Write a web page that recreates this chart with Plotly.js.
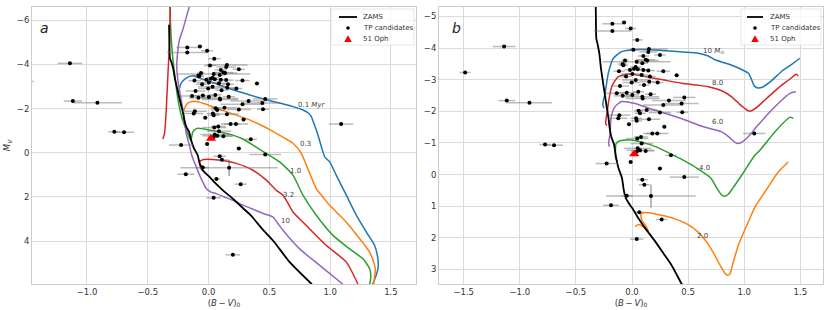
<!DOCTYPE html>
<html>
<head>
<meta charset="utf-8">
<script src="https://cdn.plot.ly/plotly-3.0.1.min.js"></script>
<style>html,body{margin:0;padding:0;background:#fff;}#chart{width:830px;height:310px;}</style>
</head>
<body>
<div id="chart"></div>
<script>
// ---------------- DATA ----------------
// ZAMS
const zamsBV = [-0.325,-0.322,-0.318,-0.305,-0.29,-0.278,-0.262,-0.245,-0.228,-0.21,-0.2,-0.185,-0.16,-0.145,-0.12,-0.09,-0.075,-0.06,-0.03,0.008,0.06,0.118,0.2,0.282,0.35,0.443,0.53,0.667,0.85];
const zamsMV = [-5.8,-5.0,-4.3,-4.1,-3.8,-3.4,-3.0,-2.6,-2.2,-1.8,-1.5,-1.2,-0.95,-0.6,-0.2,0.1,0.45,0.7,0.9,1.09,1.4,1.7,2.08,2.5,2.85,3.46,3.97,4.95,5.95];

// Panel a: isochrones
const iso01BV = [-0.253,-0.240,-0.225,-0.184,-0.129,-0.074,0.05,0.2,0.35,0.475,0.60,0.694,0.776,0.82,0.845,0.865,0.886,0.908,0.928,0.955,0.996,1.05,1.133,1.216,1.298,1.366,1.393,1.395,1.393,1.375,1.35];
const iso01MV = [-2.62,-2.9,-3.15,-3.38,-3.49,-3.38,-3.15,-2.85,-2.6,-2.4,-2.23,-2.09,-1.94,-1.80,-1.64,-1.35,-1.03,-0.65,-0.27,0.18,0.41,1.01,1.92,2.83,3.59,4.2,4.8,5.0,5.25,5.6,5.95];
const iso03BV = [-0.211,-0.195,-0.170,-0.135,-0.101,-0.02,0.063,0.2,0.337,0.45,0.557,0.63,0.694,0.763,0.804,0.845,0.886,0.94,0.996,1.133,1.243,1.325,1.366,1.372,1.366,1.358];
const iso03MV = [-1.79,-2.05,-2.25,-2.32,-2.32,-2.2,-2.02,-1.76,-1.49,-1.2,-0.88,-0.65,-0.43,0.03,0.56,1.1,1.62,2.0,2.38,3.14,3.89,4.5,5.1,5.35,5.56,5.95];
const iso10BV = [-0.318,-0.31,-0.298,-0.28,-0.262,-0.245,-0.215,-0.18,-0.158,-0.145,-0.138,-0.129,-0.11,-0.088,-0.04,0.008,0.1,0.2,0.29,0.365,0.42,0.475,0.584,0.694,0.776,0.886,1.023,1.16,1.27,1.325,1.335,1.325];
const iso10MV = [-6.65,-5.5,-4.5,-3.6,-2.8,-2.2,-1.5,-1.0,-0.7,-0.55,-0.75,-0.95,-1.06,-1.11,-1.08,-1.03,-0.93,-0.80,-0.6,-0.35,-0.15,0.03,0.41,1.01,1.92,2.83,3.74,4.35,4.8,5.25,5.6,5.95];
const iso32BV = [-0.376,-0.362,-0.348,-0.335,-0.321,-0.315,null,-0.05,-0.075,-0.065,-0.04,0.035,0.13,0.228,0.365,0.475,0.557,0.612,0.65,0.694,0.804,0.969,1.133,1.229];
const iso32MV = [-0.62,-0.88,-1.94,-3.45,-4.97,-6.65,null,0.62,0.50,0.36,0.30,0.30,0.36,0.48,0.79,1.24,1.7,1.92,2.25,2.68,3.29,4.2,4.95,5.95];
const iso100BV = [-0.156,-0.18,-0.21,-0.239,-0.255,-0.262,-0.25,-0.225,-0.2,-0.184,-0.16,-0.142,-0.129,-0.1,-0.074,-0.045,-0.019,0.02,0.063,0.13,0.2,0.255,0.35,0.45,0.53,0.57,0.612,0.749,0.914,1.105];
const iso100MV = [-6.64,-6.2,-5.6,-5.12,-4.5,-3.91,-3.2,-2.4,-1.6,-0.88,-0.4,0.03,0.26,0.65,1.01,1.35,1.62,1.78,1.85,2.0,2.15,2.3,2.52,2.75,2.91,3.2,3.51,4.35,5.1,5.95];
const isoLabels = ['0.1 <i>Myr</i>', '0.3', '1.0', '3.2', '10'];

// Panel b: evolutionary tracks
const trk10BV = [-0.25,-0.26,-0.255,-0.24,-0.211,-0.166,-0.092,0.027,0.15,0.294,0.45,0.59,0.68,0.739,0.83,0.917,0.99,1.036,1.066,1.09,1.12,1.16,1.22,1.333,1.42,1.496];
const trk10MV = [-2.1,-2.2,-2.35,-2.57,-3.21,-3.68,-3.89,-3.95,-3.95,-3.92,-3.88,-3.84,-3.75,-3.63,-3.53,-3.42,-3.3,-3.21,-3.0,-2.8,-2.74,-2.76,-2.9,-3.26,-3.48,-3.68];
const trk8BV = [-0.225,-0.235,-0.232,-0.22,-0.211,-0.181,-0.122,-0.033,0.05,0.145,0.3,0.443,0.58,0.68,0.8,0.888,0.96,1.006,1.036,1.066,1.12,1.184,1.26,1.333,1.4,1.451,1.466,1.481];
const trk8MV = [-1.55,-1.62,-1.75,-2.0,-2.25,-2.78,-3.10,-3.18,-3.15,-3.08,-2.98,-2.89,-2.83,-2.78,-2.65,-2.46,-2.22,-2.09,-2.02,-2.02,-2.15,-2.36,-2.6,-2.83,-3.0,-3.15,-3.17,-3.12];
const trk6BV = [-0.2,-0.208,-0.205,-0.196,-0.185,-0.151,-0.092,0.027,0.15,0.294,0.45,0.59,0.7,0.799,0.86,0.917,0.947,0.99,1.05,1.11,1.258,1.407,1.46];
const trk6MV = [-0.88,-0.98,-1.09,-1.30,-1.83,-2.15,-2.31,-2.25,-2.1,-1.94,-1.76,-1.57,-1.45,-1.35,-1.2,-1.02,-0.98,-1.05,-1.25,-1.51,-2.09,-2.57,-2.62];
const trk4BV = [-0.13,-0.145,-0.148,-0.142,-0.107,-0.018,0.131,0.22,0.309,0.427,0.58,0.70,0.76,0.80,0.83,0.858,0.9,0.977,1.095,1.14,1.288,1.407,1.437];
const trk4MV = [-0.42,-0.5,-0.7,-0.98,-1.07,-1.09,-0.98,-0.87,-0.72,-0.51,-0.2,0.1,0.45,0.65,0.68,0.62,0.42,0.02,-0.61,-0.77,-1.41,-1.81,-1.78];
const trk2BV = [0.027,0.056,0.1,0.145,0.12,0.09,0.08,0.1,0.145,0.25,0.383,0.5,0.59,0.67,0.739,0.79,0.828,0.85,0.873,0.9,0.947,1.036,1.1,1.184,1.303,1.392];
const trk2MV = [1.65,1.58,1.65,1.8,1.6,1.45,1.27,1.2,1.21,1.28,1.40,1.58,1.82,2.15,2.56,2.9,3.12,3.18,3.14,2.8,2.24,1.5,1.0,0.55,-0.08,-0.4];
const trackLabels = ['10 <i>M</i><sub>⊙</sub>', '8.0', '6.0', '4.0', '2.0'];

// TP candidates
const starBV = [-1.140,-1.487,-1.116,-0.914,-0.775,-0.695,1.09,
 -0.175,-0.071,-0.175,-0.012,0.047,0.012,0.151,0.145,0.249,0.101,0.122,0.136,0.042,0.092,-0.062,-0.083,-0.077,0.033,0.018,0.051,-0.018,0.101,-0.116,0.145,0.279,0.003,-0.053,0.086,0.398,0.033,0.160,-0.003,0.154,
 -0.107,0.107,0.229,-0.047,0.003,0.056,0.092,0.095,0.166,-0.083,-0.136,0.466,0.329,0.442,0.279,0.448,0.059,0.071,0.131,0.249,-0.113,-0.122,0.036,0.042,0.151,-0.027,0.288,0.181,0.225,0.080,0.047,0.086,0.051,0.071,0.122,0.042,
 0.347,-0.226,-0.012,0.249,0.466,0.092,0.110,-0.047,0.169,-0.187,0.065,0.264,0.042,0.2];
const starMV = [-4.05,-3.23,-2.34,-2.27,-0.95,-0.93,-1.30,
 -4.77,-4.81,-4.54,-4.62,-4.26,-3.95,-3.97,-3.88,-3.78,-3.75,-3.63,-3.61,-3.57,-3.52,-3.61,-3.50,-3.46,-3.40,-3.35,-3.33,-3.31,-3.31,-3.27,-3.29,-3.27,-3.18,-3.10,-3.15,-3.14,-2.99,-3.10,-2.91,-2.94,
 -2.80,-2.83,-2.91,-2.59,-2.52,-2.62,-2.46,-2.41,-2.54,-2.49,-2.57,-2.44,-2.34,-2.25,-2.20,-1.97,-2.02,-1.94,-2.04,-1.96,-1.88,-1.78,-1.78,-1.70,-1.75,-1.59,-1.51,-1.30,-1.30,-1.19,-1.14,-0.98,-0.83,-0.77,-0.75,-0.72,
 -0.61,-0.35,-0.40,-0.19,0.08,0.16,0.32,0.67,0.68,0.97,1.19,1.42,2.04,4.62];
const starBVerr = [0.10,0.05,0.075,0.2,0.05,0.08,0.1,
 0.09,0.02,0.165,0.05,0.05,0.05,0.17,0.08,0.05,0.05,0.08,0.1,0.3,0.05,0.03,0.04,0.04,0.05,0.05,0.05,0.05,0.05,0.05,0.06,0.06,0.1,0.05,0.06,0.02,0.12,0.05,0.08,0.08,
 0.08,0.05,0.05,0.1,0.06,0.05,0.15,0.15,0.05,0.08,0.1,0.1,0.15,0.15,0.18,0.05,0.04,0.05,0.1,0.1,0.1,0.08,0.05,0.05,0.1,0.02,0.02,0.08,0.1,0.06,0.1,0.1,0.12,0.12,0.08,0.05,
 0.05,0.1,0.02,0.02,0.13,0.05,0.05,0.05,0.4,0.07,0.03,0.05,0.06,0.06];
const starMVerr = [0,0,0,0,0,0,0,
 0,0,0,0,0,0,0,0,0,0,0,0,0,0,0,0,0,0,0,0,0,0,0,0,0,0,0,0,0,0,0,0,0,
 0,0,0,0,0,0,0,0,0,0,0,0,0,0,0,0,0,0,0,0,0,0,0,0,0,0,0,0,0,0,0,0,0,0,0,0,
 0,0,0,0,0,0,0,0,0.37,0,0,0,0,0];

// 51 Oph
const ophBV = [0.02];
const ophMV = [-0.65];

const legendLabels = ['ZAMS', 'TP candidates', '51 Oph'];

// ---------------- STYLE / LAYOUT ----------------
const C = {blue:'#1f77b4', orange:'#ff7f0e', green:'#2ca02c', red:'#d62728', purple:'#9467bd'};
const FONT = 'DejaVu Sans, Liberation Sans, sans-serif';
const ML = 32, MR = 7, MT = 7, MB = 26, W = 830, H = 310;
const PW = W - ML - MR, PH = H - MT - MB;
function px(x) { return (x - ML) / PW; }
function py(y) { return (H - MB - y) / PH; }

function line(xs, ys, color, xa, ya, width) {
  return {x: xs, y: ys, xaxis: xa, yaxis: ya, mode: 'lines', type: 'scatter',
    line: {color: color, width: width || 1.5, shape: 'spline', smoothing: 0.6},
    hoverinfo: 'skip', showlegend: false, connectgaps: false};
}
function stars(xa, ya) {
  return {x: starBV, y: starMV, xaxis: xa, yaxis: ya, mode: 'markers', type: 'scatter',
    name: legendLabels[1],
    marker: {color: '#000', size: 4},
    error_x: {type: 'data', array: starBVerr, color: 'rgba(120,120,120,0.5)', thickness: 1.5, width: 0},
    error_y: {type: 'data', array: starMVerr, color: 'rgba(80,80,80,0.7)', thickness: 1.1, width: 0},
    showlegend: false};
}
function oph(xa, ya) {
  return {x: ophBV, y: ophMV, xaxis: xa, yaxis: ya, mode: 'markers', type: 'scatter',
    name: legendLabels[2], marker: {color: 'red', size: 9, symbol: 'triangle-up'}, showlegend: false};
}

const traces = [
  line(iso01BV, iso01MV, C.blue, 'x', 'y'),
  line(iso03BV, iso03MV, C.orange, 'x', 'y'),
  line(iso10BV, iso10MV, C.green, 'x', 'y'),
  line(iso100BV, iso100MV, C.purple, 'x', 'y'),
  line(iso32BV, iso32MV, C.red, 'x', 'y'),
  line(zamsBV, zamsMV, '#000', 'x', 'y', 1.8),
  stars('x', 'y'),
  oph('x', 'y'),
  line(trk10BV, trk10MV, C.blue, 'x2', 'y2'),
  line(trk8BV, trk8MV, C.red, 'x2', 'y2'),
  line(trk6BV, trk6MV, C.purple, 'x2', 'y2'),
  line(trk4BV, trk4MV, C.green, 'x2', 'y2'),
  line(trk2BV, trk2MV, C.orange, 'x2', 'y2'),
  line(zamsBV, zamsMV, '#000', 'x2', 'y2', 1.8),
  stars('x2', 'y2'),
  oph('x2', 'y2')
];

const axBase = {
  showgrid: true, gridcolor: '#dadada', gridwidth: 1, zeroline: false,
  showline: true, linecolor: '#cccccc', linewidth: 1, mirror: true,
  ticks: '', tickfont: {family: FONT, size: 8.5, color: '#333'}
};
const xTitle = {text: '(<i>B</i>\u2009−\u2009<i>V</i>)<sub>0</sub>', font: {family: FONT, size: 8.5, color: '#333'}, standoff: 3};

const splitA = (416 - ML) / PW, splitB = (439 - ML) / PW;

// isochrone / track label positions (data coords)
const isoLabelPos = [[0.85,-2.17],[0.80,-0.38],[0.718,0.83],[0.661,1.89],[0.631,3.09]];
const trkLabelPos = [[0.73,-3.92],[0.76,-2.91],[0.763,-1.67],[0.65,-0.22],[0.626,1.95]];

const annotations = [];
isoLabels.forEach((t, i) => annotations.push({xref: 'x', yref: 'y', x: isoLabelPos[i][0], y: isoLabelPos[i][1], text: t,
  showarrow: false, font: {family: FONT, size: 7, color: '#444'}, xanchor: 'center', yanchor: 'middle'}));
trackLabels.forEach((t, i) => annotations.push({xref: 'x2', yref: 'y2', x: trkLabelPos[i][0], y: trkLabelPos[i][1], text: t,
  showarrow: false, font: {family: FONT, size: 7, color: '#444'}, xanchor: 'center', yanchor: 'middle'}));
// panel letters
annotations.push({xref: 'paper', yref: 'paper', x: px(44), y: py(28), text: '<i>a</i>', showarrow: false,
  font: {family: FONT, size: 14, color: '#222'}, xanchor: 'center', yanchor: 'middle'});
annotations.push({xref: 'paper', yref: 'paper', x: px(457), y: py(28), text: '<i>b</i>', showarrow: false,
  font: {family: FONT, size: 14, color: '#222'}, xanchor: 'center', yanchor: 'middle'});

// legends (drawn as layout decoration)
const shapes = [];
function legend(boxX0, boxX1, lineX0, lineX1, textX) {
  const cx = (lineX0 + lineX1) / 2;
  shapes.push({type: 'rect', xref: 'paper', yref: 'paper', x0: px(boxX0), x1: px(boxX1), y0: py(45), y1: py(9),
    fillcolor: 'rgba(255,255,255,0.8)', line: {color: 'rgba(215,215,215,0.6)', width: 1}, layer: 'above'});
  shapes.push({type: 'line', xref: 'paper', yref: 'paper', x0: px(lineX0), x1: px(lineX1), y0: py(17), y1: py(17),
    line: {color: '#000', width: 1.8}, layer: 'above'});
  shapes.push({type: 'circle', xref: 'paper', yref: 'paper', x0: px(cx - 1.8), x1: px(cx + 1.8), y0: py(29.8), y1: py(26.2),
    fillcolor: '#000', line: {width: 0}, layer: 'above'});
  shapes.push({type: 'path', xref: 'paper', yref: 'paper',
    path: 'M ' + px(cx) + ',' + py(35.3) + ' L ' + px(cx - 3.8) + ',' + py(42) + ' L ' + px(cx + 3.8) + ',' + py(42) + ' Z',
    fillcolor: 'red', line: {width: 0}, layer: 'above'});
  [17, 28, 39].forEach((yy, i) => annotations.push({xref: 'paper', yref: 'paper', x: px(textX), y: py(yy), text: legendLabels[i],
    showarrow: false, xanchor: 'left', yanchor: 'middle', font: {family: FONT, size: 7, color: '#333'}}));
}
legend(331, 414, 339, 357, 361);
legend(741, 821, 747, 763, 768);

const layout = {
  width: W, height: H,
  margin: {l: ML, r: MR, t: MT, b: MB, pad: 0},
  paper_bgcolor: '#fff', plot_bgcolor: '#fff',
  font: {family: FONT, color: '#333'},
  showlegend: false,
  xaxis: Object.assign({}, axBase, {domain: [0, splitA], range: [-1.452, 1.706], tick0: 0, dtick: 0.5, tickformat: '.1f', anchor: 'y', title: xTitle}),
  yaxis: Object.assign({}, axBase, {domain: [0, 1], range: [5.94, -6.60], tick0: 0, dtick: 2, anchor: 'x',
    title: {text: '<i>M<sub>V</sub></i>', font: {family: FONT, size: 8.5, color: '#333'}, standoff: 4}}),
  xaxis2: Object.assign({}, axBase, {domain: [splitB, 1], range: [-1.720, 1.702], tick0: 0, dtick: 0.5, tickformat: '.1f', anchor: 'y2', title: xTitle}),
  yaxis2: Object.assign({}, axBase, {domain: [0, 1], range: [3.46, -5.30], tick0: 0, dtick: 1, anchor: 'x2'}),
  annotations: annotations,
  shapes: shapes
};

Plotly.newPlot('chart', traces, layout, {displayModeBar: false, staticPlot: true});
</script>
</body>
</html>
